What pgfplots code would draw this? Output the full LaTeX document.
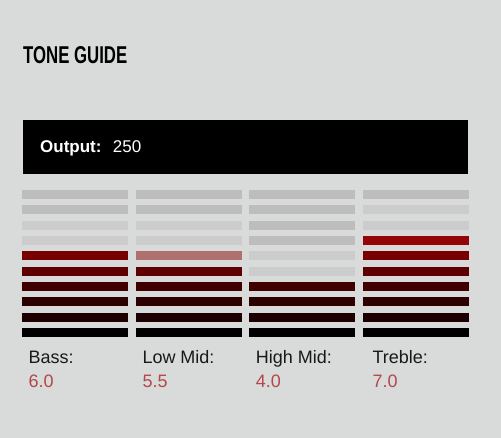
\documentclass[border=0pt]{standalone}
\usepackage{pgfplots}
\pgfplotsset{compat=1.18}
\usepackage{pgfplotstable}
\usepackage{graphicx}
\usepackage{fontspec}
\setmainfont{Liberation Sans}
\definecolor{bgc}{HTML}{D8DBDA}
\definecolor{lvA}{HTML}{000000}
\definecolor{lvB}{HTML}{1C0000}
\definecolor{lvC}{HTML}{2D0000}
\definecolor{lvD}{HTML}{400000}
\definecolor{lvE}{HTML}{5E0000}
\definecolor{lvF}{HTML}{780000}
\definecolor{lvG}{HTML}{960505}
\definecolor{half}{HTML}{B07070}
\definecolor{gdark}{HTML}{BDBDBD}
\definecolor{glight}{HTML}{CCCCCC}
\definecolor{valred}{HTML}{B5474A}
\pgfdeclareplotmark{seg}{\pgfpathrectangle{\pgfpoint{-53pt}{-4.5pt}}{\pgfpoint{106pt}{9pt}}\pgfusepathqfill}

% column index, level (1 = bottom), segment state
\pgfplotstableread{
x y c
0 1 A
0 2 B
0 3 C
0 4 D
0 5 E
0 6 F
0 7 l
0 8 l
0 9 d
0 10 d
1 1 A
1 2 B
1 3 C
1 4 D
1 5 E
1 6 H
1 7 l
1 8 l
1 9 d
1 10 d
2 1 A
2 2 B
2 3 C
2 4 D
2 5 l
2 6 l
2 7 d
2 8 d
2 9 d
2 10 d
3 1 A
3 2 B
3 3 C
3 4 D
3 5 E
3 6 F
3 7 G
3 8 l
3 9 l
3 10 d
}\segs

\begin{document}
\begin{tikzpicture}[x=1pt,y=1pt]
\fill[bgc] (0,0) rectangle (501,438);
\fill[black] (23,264) rectangle (468.3,318);
\node[anchor=base west,inner sep=0pt,text=black] at (23,374)
  {\resizebox{104pt}{17pt}{\bfseries TONE GUIDE}};
\node[anchor=base west,inner sep=0pt,text=white,font=\fontsize{17}{20}\selectfont\bfseries] at (40,285) {Output:};
\node[anchor=base west,inner sep=0pt,text=white,font=\fontsize{17}{20}\selectfont] at (112.7,285) {250};
\begin{axis}[
  at={(18.55pt,97.8pt)}, anchor=south west,
  width=453.9pt, height=153.3pt, scale only axis,
  xmin=-0.5, xmax=3.5, ymin=0.5, ymax=10.5,
  hide axis, clip=false,
]
\addplot[scatter, only marks, mark=seg,
  scatter src=explicit symbolic,
  scatter/classes={
    A={mark=seg, fill=lvA},
    B={mark=seg, fill=lvB},
    C={mark=seg, fill=lvC},
    D={mark=seg, fill=lvD},
    E={mark=seg, fill=lvE},
    F={mark=seg, fill=lvF},
    G={mark=seg, fill=lvG},
    H={mark=seg, fill=half},
    l={mark=seg, fill=glight},
    d={mark=seg, fill=gdark}}
] table[x=x, y=y, meta=c] {\segs};
\end{axis}
\begin{scope}[font=\fontsize{18}{21}\selectfont]
\node[anchor=base west,inner sep=0pt,text=black!90] at (28.3,74.7) {Bass:};
\node[anchor=base west,inner sep=0pt,text=black!90] at (142.3,74.7) {Low Mid:};
\node[anchor=base west,inner sep=0pt,text=black!90] at (255.7,74.7) {High Mid:};
\node[anchor=base west,inner sep=0pt,text=black!90] at (372.3,74.7) {Treble:};
\node[anchor=base west,inner sep=0pt,text=valred] at (28.3,50.3) {6.0};
\node[anchor=base west,inner sep=0pt,text=valred] at (142.3,50.3) {5.5};
\node[anchor=base west,inner sep=0pt,text=valred] at (255.7,50.3) {4.0};
\node[anchor=base west,inner sep=0pt,text=valred] at (372.3,50.3) {7.0};
\end{scope}
\end{tikzpicture}
\end{document}
